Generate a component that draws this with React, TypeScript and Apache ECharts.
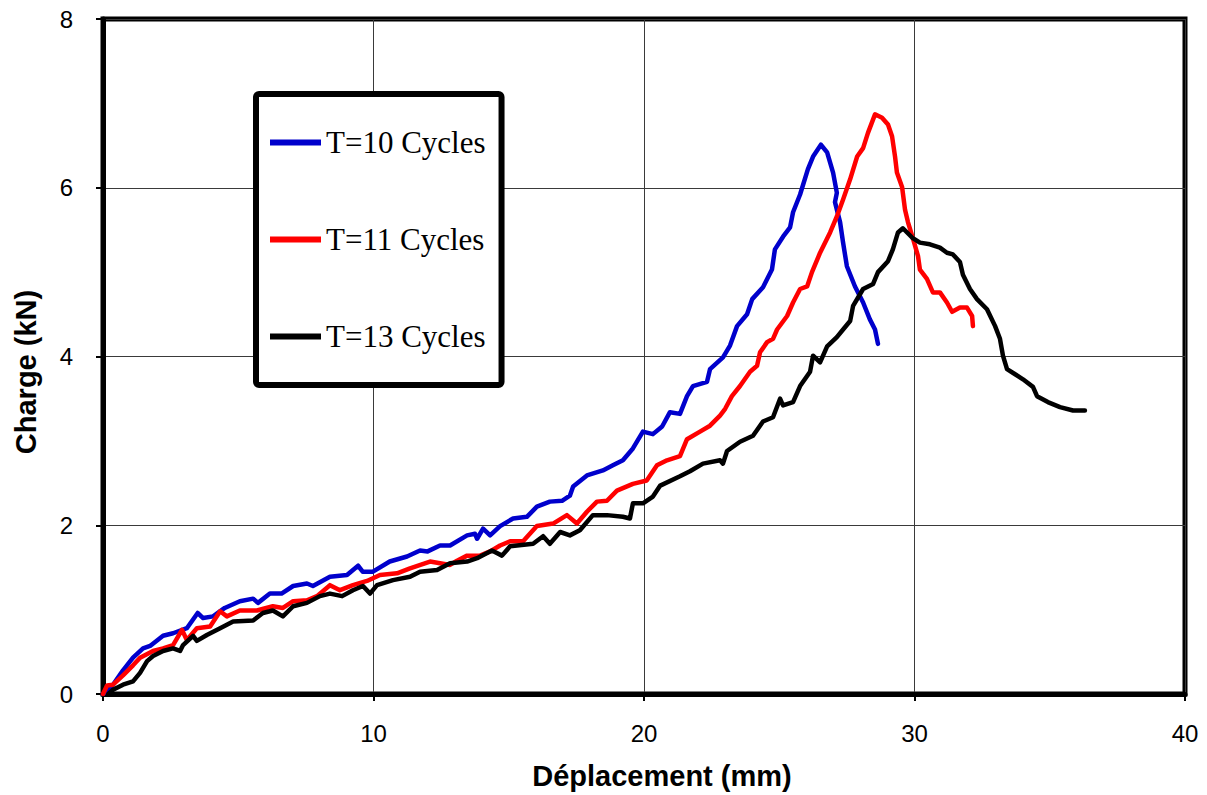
import React, { useEffect, useRef } from "react";
import * as echarts from "echarts";

const seriesNames = ["T=10 Cycles", "T=11 Cycles", "T=13 Cycles"];
const seriesColors = ["#0000CC", "#FF0000", "#000000"];

const xTicks = [0, 10, 20, 30, 40];
const yTicks = [0, 2, 4, 6, 8];

const t10Data = [
  [0, 0], [0.37, 0.11], [0.74, 0.28], [1.11, 0.43], [1.48, 0.54], [1.74, 0.57], [2.22, 0.69], [2.59, 0.72],
  [3.1, 0.78], [3.5, 0.96], [3.7, 0.9], [4.07, 0.92], [4.5, 1.02], [5.06, 1.1], [5.55, 1.13], [5.73, 1.08],
  [6.17, 1.19], [6.6, 1.19], [7.03, 1.28], [7.54, 1.31], [7.76, 1.28], [8.39, 1.39], [9.02, 1.41], [9.43, 1.52],
  [9.6, 1.45], [9.98, 1.45], [10.6, 1.57], [11.24, 1.63], [11.72, 1.7], [12.0, 1.69], [12.46, 1.76], [12.83, 1.76],
  [13.46, 1.88], [13.75, 1.9], [13.83, 1.84], [14.05, 1.96], [14.31, 1.88], [14.68, 1.99], [15.16, 2.08], [15.67, 2.1],
  [16.04, 2.22], [16.52, 2.28], [16.97, 2.29], [17.26, 2.35], [17.38, 2.46], [17.89, 2.59], [18.48, 2.65], [18.85, 2.71],
  [19.22, 2.77], [19.59, 2.91], [19.96, 3.11], [20.33, 3.08], [20.67, 3.17], [20.96, 3.34], [21.33, 3.32], [21.59, 3.53],
  [21.81, 3.65], [22.33, 3.7], [22.44, 3.85], [22.92, 3.99], [23.18, 4.13], [23.44, 4.36], [23.81, 4.5], [24.0, 4.68],
  [24.4, 4.82], [24.73, 5.03], [24.84, 5.27], [25.14, 5.42], [25.4, 5.53], [25.51, 5.71], [25.77, 5.92], [26.06, 6.22],
  [26.25, 6.37], [26.54, 6.51], [26.77, 6.42], [26.99, 6.18], [27.13, 5.94], [27.06, 5.83], [27.25, 5.59], [27.36, 5.35],
  [27.5, 5.07], [27.8, 4.83], [28.1, 4.64], [28.35, 4.44], [28.54, 4.32], [28.65, 4.15],
];

const t11Data = [
  [0, 0], [0.15, 0.1], [0.37, 0.11], [0.74, 0.22], [1.11, 0.34], [1.37, 0.43], [1.85, 0.51], [2.22, 0.54],
  [2.59, 0.58], [2.92, 0.76], [3.1, 0.64], [3.47, 0.78], [3.96, 0.8], [4.33, 0.98], [4.58, 0.92], [5.06, 0.99],
  [5.69, 0.99], [6.28, 1.04], [6.65, 1.02], [7.03, 1.1], [7.54, 1.11], [7.91, 1.16], [8.39, 1.29], [8.76, 1.23],
  [9.24, 1.29], [9.76, 1.34], [10.24, 1.41], [10.87, 1.43], [11.35, 1.49], [12.09, 1.57], [12.46, 1.55], [12.83, 1.53],
  [13.09, 1.58], [13.46, 1.64], [13.94, 1.64], [14.31, 1.69], [14.68, 1.76], [15.05, 1.81], [15.53, 1.81], [16.04, 1.99],
  [16.64, 2.02], [17.15, 2.12], [17.52, 2.02], [17.89, 2.16], [18.26, 2.28], [18.63, 2.29], [19.0, 2.41], [19.59, 2.49],
  [20.1, 2.53], [20.48, 2.71], [20.85, 2.77], [21.33, 2.82], [21.59, 3.02], [22.07, 3.11], [22.44, 3.18], [22.81, 3.3],
  [23.0, 3.38], [23.25, 3.53], [23.55, 3.65], [23.92, 3.82], [24.18, 3.89], [24.29, 4.05], [24.55, 4.17], [24.77, 4.21],
  [24.92, 4.32], [25.29, 4.48], [25.51, 4.64], [25.77, 4.8], [26.03, 4.83], [26.21, 5.0], [26.51, 5.23], [26.88, 5.47],
  [27.13, 5.66], [27.36, 5.86], [27.62, 6.1], [27.88, 6.37], [28.1, 6.47], [28.28, 6.65], [28.54, 6.87], [28.8, 6.83],
  [29.02, 6.75], [29.17, 6.61], [29.28, 6.37], [29.35, 6.18], [29.54, 6.01], [29.65, 5.74], [29.76, 5.59], [29.95, 5.39],
  [30.13, 5.19], [30.2, 5.03], [30.46, 4.92], [30.68, 4.76], [30.94, 4.76], [31.2, 4.64], [31.39, 4.53], [31.68, 4.58],
  [31.94, 4.58], [32.13, 4.48], [32.16, 4.36],
];

const t13Data = [
  [0.2, 0], [0.37, 0.05], [0.74, 0.11], [1.11, 0.15], [1.37, 0.25], [1.63, 0.39], [1.85, 0.45], [2.22, 0.51],
  [2.59, 0.54], [2.85, 0.51], [2.96, 0.58], [3.33, 0.69], [3.47, 0.63], [3.84, 0.7], [4.33, 0.78], [4.81, 0.86],
  [5.55, 0.87], [5.91, 0.96], [6.28, 0.99], [6.65, 0.92], [7.03, 1.04], [7.54, 1.08], [8.02, 1.16], [8.39, 1.19],
  [8.84, 1.16], [9.24, 1.23], [9.61, 1.28], [9.87, 1.19], [10.13, 1.29], [10.72, 1.35], [11.35, 1.39], [11.72, 1.45],
  [12.35, 1.47], [12.83, 1.55], [13.46, 1.57], [13.83, 1.61], [14.2, 1.67], [14.38, 1.7], [14.75, 1.64], [15.05, 1.75],
  [15.9, 1.78], [16.27, 1.87], [16.52, 1.78], [16.9, 1.92], [17.26, 1.88], [17.63, 1.94], [18.11, 2.12], [18.63, 2.12],
  [19.22, 2.1], [19.48, 2.08], [19.59, 2.26], [19.96, 2.26], [20.33, 2.34], [20.6, 2.47], [21.33, 2.58], [21.7, 2.64],
  [22.18, 2.73], [22.81, 2.77], [22.92, 2.73], [23.07, 2.88], [23.55, 2.99], [24.03, 3.06], [24.4, 3.23], [24.77, 3.28],
  [25.03, 3.5], [25.14, 3.42], [25.51, 3.46], [25.77, 3.65], [26.14, 3.82], [26.25, 4.01], [26.51, 3.93], [26.77, 4.12],
  [27.13, 4.23], [27.36, 4.32], [27.62, 4.42], [27.73, 4.6], [28.1, 4.8], [28.47, 4.86], [28.65, 5.0], [29.02, 5.13],
  [29.2, 5.27], [29.39, 5.47], [29.57, 5.52], [29.91, 5.41], [30.2, 5.35], [30.57, 5.33], [30.94, 5.29], [31.2, 5.23],
  [31.42, 5.21], [31.68, 5.12], [31.79, 4.97], [32.05, 4.8], [32.31, 4.68], [32.68, 4.56], [32.98, 4.36], [33.16, 4.21],
  [33.27, 4.01], [33.42, 3.85], [33.72, 3.79], [34.01, 3.73], [34.38, 3.64], [34.53, 3.53], [34.93, 3.46], [35.38, 3.4],
  [35.86, 3.36], [36.3, 3.36],
];

const allData = [t10Data, t11Data, t13Data];

export default function App() {
  const ref = useRef<HTMLDivElement>(null);

  useEffect(() => {
    if (!ref.current) return;
    const chart = echarts.init(ref.current, null, { renderer: "svg" });
    const sans = "'Liberation Sans', Arial, sans-serif";
    const serif = "'Liberation Serif', 'Times New Roman', serif";

    chart.setOption({
      animation: false,
      backgroundColor: "#ffffff",
      grid: {
        left: 103,
        right: 22,
        top: 19,
        bottom: 99,
        show: true,
        borderColor: "#000",
        borderWidth: 5,
        backgroundColor: "transparent",
      },
      legend: {
        orient: "vertical",
        left: 256,
        top: 94,
        padding: [33, 16, 33, 14],
        itemGap: 66,
        itemWidth: 51,
        itemHeight: 6,
        icon: "rect",
        borderColor: "#000",
        borderWidth: 6,
        borderRadius: 3,
        backgroundColor: "#fff",
        textStyle: { fontFamily: serif, fontSize: 31, color: "#000" },
        data: seriesNames,
      },
      xAxis: {
        type: "value",
        min: xTicks[0],
        max: xTicks[xTicks.length - 1],
        interval: 10,
        name: "Déplacement (mm)",
        nameLocation: "middle",
        nameGap: 67,
        nameTextStyle: { fontFamily: sans, fontWeight: "bold", fontSize: 29, color: "#000", padding: [0, 0, 0, 36] },
        axisLine: { show: true, lineStyle: { color: "#000", width: 5 } },
        axisTick: { show: true, inside: false, length: 7, lineStyle: { color: "#000", width: 2 } },
        axisLabel: { margin: 27, fontFamily: sans, fontSize: 24, color: "#000" },
        splitLine: { show: true, lineStyle: { color: "#3a3a3a", width: 1 } },
      },
      yAxis: {
        type: "value",
        min: yTicks[0],
        max: yTicks[yTicks.length - 1],
        interval: 2,
        name: "Charge (kN)",
        nameLocation: "middle",
        nameGap: 63,
        nameRotate: 90,
        nameTextStyle: { fontFamily: sans, fontWeight: "bold", fontSize: 29, color: "#000", padding: [0, 31, 0, 0] },
        axisLine: { show: true, lineStyle: { color: "#000", width: 5 } },
        axisTick: { show: true, inside: false, length: 7, lineStyle: { color: "#000", width: 2 } },
        axisLabel: { margin: 30, fontFamily: sans, fontSize: 24, color: "#000" },
        splitLine: { show: true, lineStyle: { color: "#3a3a3a", width: 1 } },
      },
      series: allData.map((d, i) => ({
        name: seriesNames[i],
        type: "line",
        data: d,
        symbol: "none",
        showSymbol: false,
        smooth: false,
        color: seriesColors[i],
        lineStyle: { color: seriesColors[i], width: 4.5, join: "round", cap: "round" },
        z: 3 + i,
      })),
    });

    return () => chart.dispose();
  }, []);

  return (
    <div
      ref={ref}
      style={{ position: "fixed", left: 0, top: 0, width: 1207, height: 795, background: "#fff" }}
    />
  );
}
